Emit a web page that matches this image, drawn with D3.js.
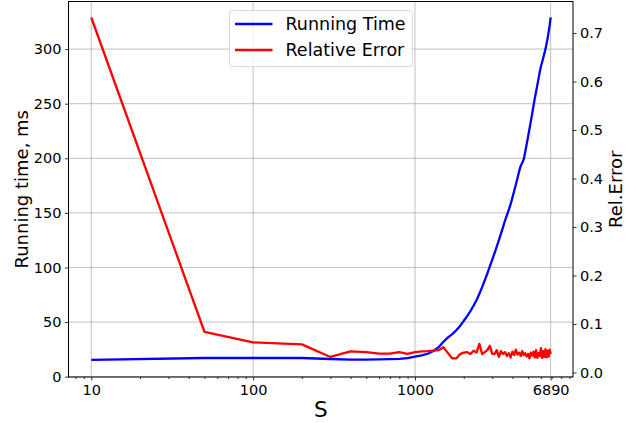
<!DOCTYPE html>
<html>
<head>
<meta charset="utf-8">
<script src="https://cdn.jsdelivr.net/npm/d3@7"></script>
<style>
  body { margin: 0; background: #fff; }
  svg { font-family: "DejaVu Sans", sans-serif; display: block; }
</style>
</head>
<body>
<svg id="chart" width="636" height="423"></svg>
<script>
// sample sizes S
var sizes = [10, 50, 100, 200, 300, 400, 500, 600, 700, 800, 900,
    1000, 1100, 1200, 1300, 1400, 1500, 1600, 1700, 1800, 1900,
    2000, 2100, 2200, 2300, 2400, 2500, 2600, 2700, 2800, 2900,
    3000, 3100, 3200, 3300, 3400, 3500, 3600, 3700, 3800, 3900,
    4000, 4100, 4200, 4300, 4400, 4500, 4600, 4700, 4800, 4900,
    5000, 5100, 5200, 5300, 5400, 5500, 5600, 5700, 5800, 5900,
    6000, 6100, 6200, 6300, 6400, 6500, 6600, 6700, 6800, 6890];

// running time, ms
var runningTime = [15.3, 17.1, 17.1, 17.1, 16.2, 15.6, 15.6, 15.8, 16.0, 16.3, 16.9,
    18.3, 19.5, 21.0, 23.5, 27.0, 32.0, 36.0, 39.0, 42.5, 46.5,
    51.0, 55.5, 60.0, 65.0, 70.0, 76.0, 82.0, 88.5, 94.5, 101,
    107, 113, 119, 125, 131, 137, 143, 148, 153, 158,
    164, 170, 176, 182, 188, 193, 196, 199, 206, 213,
    220, 227, 234, 241, 248, 255, 261, 267, 273, 279,
    284, 288, 292, 296, 300, 305, 310, 316, 322, 329];

// relative error
var relError = [0.732, 0.084, 0.062, 0.058, 0.032, 0.0435, 0.042, 0.039, 0.039, 0.042, 0.0386,
    0.042, 0.0435, 0.044, 0.045, 0.046, 0.052, 0.040, 0.029, 0.029, 0.038,
    0.041, 0.042, 0.038, 0.045, 0.041, 0.059, 0.038, 0.042, 0.046, 0.055,
    0.039, 0.038, 0.046, 0.032, 0.044, 0.038, 0.042, 0.034, 0.040, 0.031,
    0.043, 0.036, 0.047, 0.037, 0.041, 0.034, 0.044, 0.036, 0.040, 0.033,
    0.038, 0.029, 0.041, 0.035, 0.043, 0.031, 0.046, 0.030, 0.040, 0.034,
    0.050, 0.030, 0.044, 0.032, 0.048, 0.031, 0.045, 0.033, 0.047, 0.038];

var xTicks = [10, 100, 1000, 6890];
var leftTicks = [0, 50, 100, 150, 200, 250, 300];
var rightTicks = [0, 0.1, 0.2, 0.3, 0.4, 0.5, 0.6, 0.7];

var plotL = 68.5, plotR = 573, plotT = 1.5, plotB = 377;

var svg = d3.select("#chart");

var x = d3.scaleLog().domain([7.23, 9470]).range([plotL, plotR]);
var yL = d3.scaleLinear().domain([-0.3, 343.6]).range([plotB, plotT]);
var yR = d3.scaleLinear().domain([-0.0093, 0.765]).range([plotB, plotT]);

// grid
var grid = svg.append("g").attr("stroke", "#b0b0b0").attr("stroke-width", 0.8);
grid.selectAll("line.v").data(xTicks).enter().append("line")
    .attr("class", "v")
    .attr("x1", function (d) { return x(d); })
    .attr("x2", function (d) { return x(d); })
    .attr("y1", plotT).attr("y2", plotB);
grid.selectAll("line.h").data(leftTicks).enter().append("line")
    .attr("class", "h")
    .attr("y1", function (d) { return yL(d); })
    .attr("y2", function (d) { return yL(d); })
    .attr("x1", plotL).attr("x2", plotR);

// lines
var blueLine = d3.line()
    .x(function (d, i) { return x(sizes[i]); })
    .y(function (d) { return yL(d); });
var redLine = d3.line()
    .x(function (d, i) { return x(sizes[i]); })
    .y(function (d) { return yR(d); });

svg.append("path").datum(runningTime)
    .attr("d", blueLine)
    .attr("fill", "none").attr("stroke", "#0000ff").attr("stroke-width", 2.3)
    .attr("stroke-linejoin", "round");
svg.append("path").datum(relError)
    .attr("d", redLine)
    .attr("fill", "none").attr("stroke", "#ff0000").attr("stroke-width", 2.3)
    .attr("stroke-linejoin", "round");

// axes
var minorTicks = [];
[1, 10, 100, 1000].forEach(function (dec) {
    for (var k = 2; k <= 9; k++) {
        var v = k * dec;
        if (v > 7.23 && v < 9470 && xTicks.indexOf(v) < 0) minorTicks.push(v);
    }
});

svg.append("g")
    .attr("transform", "translate(0," + plotB + ")")
    .call(d3.axisBottom(x).tickValues(xTicks).tickFormat(d3.format("d"))
        .tickSize(3.5).tickPadding(4.5));
svg.append("g")
    .attr("transform", "translate(0," + plotB + ")")
    .call(d3.axisBottom(x).tickValues(minorTicks).tickFormat("").tickSize(2));

svg.append("g")
    .attr("transform", "translate(" + plotL + ",0)")
    .call(d3.axisLeft(yL).tickValues(leftTicks).tickSize(3.5).tickPadding(3.5));

svg.append("g")
    .attr("transform", "translate(" + plotR + ",0)")
    .call(d3.axisRight(yR).tickValues(rightTicks).tickFormat(d3.format(".1f"))
        .tickSize(3.5).tickPadding(3.5));

svg.selectAll(".tick text").attr("font-size", 14.5).attr("fill", "#000")
    .attr("font-family", "DejaVu Sans");
svg.selectAll(".tick line").attr("stroke", "#000").attr("stroke-width", 0.8);
svg.selectAll(".domain").remove();

// frame
svg.append("rect")
    .attr("x", plotL).attr("y", plotT)
    .attr("width", plotR - plotL).attr("height", plotB - plotT)
    .attr("fill", "none").attr("stroke", "#000").attr("stroke-width", 1);

// axis labels
svg.append("text")
    .attr("transform", "translate(28," + ((plotT + plotB) / 2) + ") rotate(-90)")
    .attr("text-anchor", "middle").attr("font-size", 18)
    .text("Running time, ms");
svg.append("text")
    .attr("transform", "translate(622," + ((plotT + plotB) / 2) + ") rotate(-90)")
    .attr("text-anchor", "middle").attr("font-size", 18)
    .text("Rel.Error");
svg.append("text")
    .attr("x", (plotL + plotR) / 2).attr("y", 417)
    .attr("text-anchor", "middle").attr("font-size", 21.5)
    .text("S");

// legend
var legend = svg.append("g");
legend.append("rect")
    .attr("x", 229.5).attr("y", 10.5).attr("width", 183).attr("height", 56)
    .attr("rx", 3).attr("fill", "#fff").attr("fill-opacity", 0.8)
    .attr("stroke", "#d9d9d9").attr("stroke-width", 1);
var items = [["Running Time", "#0000ff"], ["Relative Error", "#ff0000"]];
items.forEach(function (it, i) {
    var yy = 24 + i * 26;
    legend.append("line")
        .attr("x1", 235).attr("x2", 272.5).attr("y1", yy).attr("y2", yy)
        .attr("stroke", it[1]).attr("stroke-width", 2.3);
    legend.append("text")
        .attr("x", 285.5).attr("y", yy + 6.3)
        .attr("font-size", 17.5)
        .text(it[0]);
});
</script>
</body>
</html>
